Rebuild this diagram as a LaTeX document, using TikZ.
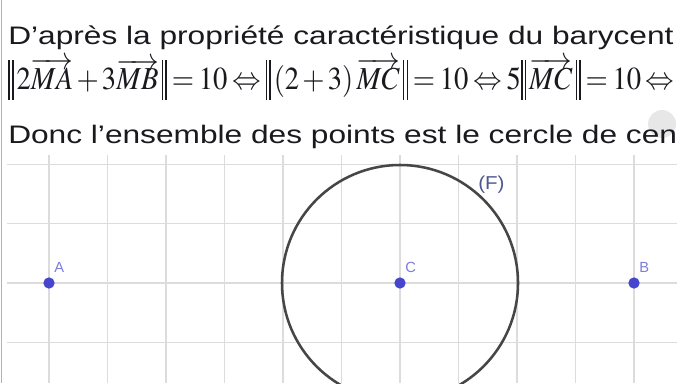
\documentclass[tikz,border=0pt]{standalone}
\usepackage{mathptmx}
\usepackage[no-math]{fontspec}
\setmainfont{Liberation Sans}
\usepackage{graphicx}
\definecolor{txt}{RGB}{25,25,30}
\definecolor{gridc}{RGB}{220,220,220}
\definecolor{ptc}{RGB}{70,70,205}
\definecolor{labc}{RGB}{125,125,222}
\definecolor{fc}{RGB}{78,88,140}
\definecolor{circc}{RGB}{70,70,70}
\newcommand\dbar{\rule[-7.9pt]{1.3pt}{30pt}\kern1.8pt\rule[-7.9pt]{1.3pt}{30pt}}
\newcommand\nrmo{\mathopen{\dbar\kern2.5pt}}
\newcommand\nrmc{\mathclose{\kern2.5pt\dbar}}
\tikzset{
  gridl/.style={draw=gridc, line width=1.1pt},
  ptnode/.style={circle, fill=ptc, inner sep=0pt, minimum size=8.5pt},
  lab/.style={anchor=base west, inner sep=0pt, text=labc, font=\fontsize{11}{13}\selectfont},
  line/.style={anchor=base west, inner sep=0pt, text=txt},
}
\begin{document}
\begin{tikzpicture}[x=0.75pt,y=-0.75pt]
\clip (0,0) rectangle (677,383);
\fill[white] (0,0) rectangle (677,383);
% grid
\foreach \i in {0,...,10} \draw[gridl] (49+58.5*\i,155) -- (49+58.5*\i,383);
\foreach \j in {-2,...,1} \draw[gridl] (7,283+59.3*\j) -- (677,283+59.3*\j);
% left border
\draw[black!30, line width=1.2pt] (1.5,0) -- (1.5,383);
% faint blob
\fill[black!18, opacity=0.5] (662,124) circle[radius=10.5pt];
% texts
\node[line] (t1) at (8,44.5) {\scalebox{1.25}[1]{\fontsize{19}{22}\selectfont D’après la propriété caractéristique du barycent}};
\node[line] (eq) at (8,89.5) {\scalebox{0.895}[1]{\fontsize{24}{28}\selectfont \thickmuskip=3mu \medmuskip=2mu $\nrmo 2\overrightarrow{MA}+3\overrightarrow{MB}\nrmc=10\Leftrightarrow\nrmo(2+3)\,\overrightarrow{MC}\nrmc=10\Leftrightarrow5\nrmo\overrightarrow{MC}\nrmc=10\Leftrightarrow$}};
\node[line] (t3) at (8,143) {\scalebox{1.25}[1]{\fontsize{19}{22}\selectfont Donc l’ensemble des points est le cercle de cen}};
% points
\coordinate (Cc) at (400,283);
\node[draw=circc, line width=1.9pt, circle, minimum size=177pt, inner sep=0pt] (F) at (Cc) {};
\node[ptnode] (A) at (49,283) {};
\node[ptnode] (C) at (Cc) {};
\node[ptnode] (B) at (634,283) {};
\node[lab] (lA) at (54,272) {A};
\node[lab] (lC) at (405,272) {C};
\node[lab] (lB) at (639,272) {B};
\node[anchor=base west, inner sep=0pt, text=fc, font=\fontsize{14}{16}\selectfont] (lF) at (478,189) {\scalebox{1.1}[1]{(F)}};
\end{tikzpicture}
\end{document}
